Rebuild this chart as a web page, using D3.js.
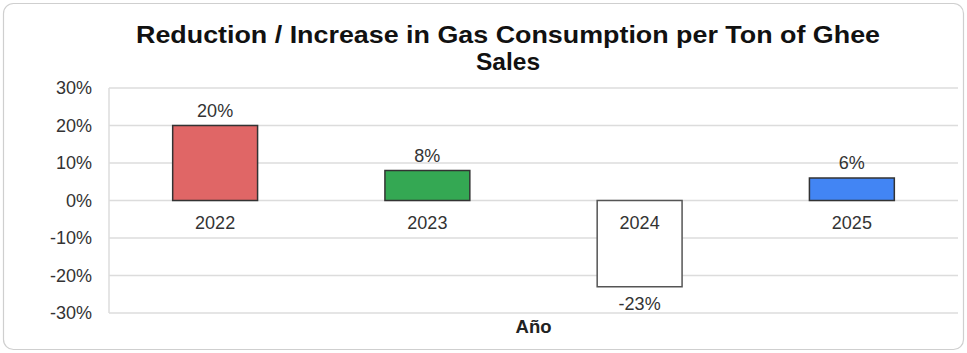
<!DOCTYPE html>
<html>
<head>
<meta charset="utf-8">
<script src="https://cdn.jsdelivr.net/npm/d3@7"></script>
<style>
  html, body { margin: 0; padding: 0; background: #fff; }
  svg { display: block; font-family: "Liberation Sans", Arial, sans-serif; }
</style>
</head>
<body>
<svg id="chart" width="967" height="353"></svg>
<script>
// Year-over-year change in gas consumption per ton of ghee sold
const years = ["2022", "2023", "2024", "2025"];
const changes = [20, 8, -23, 6];
const barColors = ["#e06666", "#34a853", "#ffffff", "#4285f4"];
const yTicks = [30, 20, 10, 0, -10, -20, -30];
const titleLines = ["Reduction / Increase in Gas Consumption per Ton of Ghee", "Sales"];
const xAxisTitle = "Año";

const svg = d3.select("#chart");
const W = 967, H = 353;
const plot = { left: 109, right: 958, top: 88, bottom: 313 };

// Card outline
svg.append("rect")
  .attr("x", 3.5).attr("y", 3.5)
  .attr("width", W - 7).attr("height", H - 7)
  .attr("rx", 10).attr("ry", 10)
  .attr("fill", "#fff")
  .attr("stroke", "#cfcfcf")
  .attr("stroke-width", 1.2);

const x = d3.scaleBand()
  .domain(years)
  .range([plot.left, plot.right])
  .paddingInner(0.6)
  .paddingOuter(0.3);

const y = d3.scaleLinear()
  .domain([-30, 30])
  .range([plot.bottom, plot.top]);

// Gridlines
svg.append("g")
  .selectAll("line")
  .data(yTicks)
  .join("line")
  .attr("x1", plot.left).attr("x2", plot.right)
  .attr("y1", d => y(d)).attr("y2", d => y(d))
  .attr("stroke", "#dcdcdc")
  .attr("stroke-width", 1.5);

// Left axis line
svg.append("line")
  .attr("x1", plot.left).attr("x2", plot.left)
  .attr("y1", plot.top).attr("y2", plot.bottom)
  .attr("stroke", "#dcdcdc")
  .attr("stroke-width", 1.5);

// Y axis labels
const yAxis = d3.axisLeft(y)
  .tickValues(yTicks)
  .tickFormat(d => d + "%")
  .tickSize(0)
  .tickPadding(17);
const yg = svg.append("g")
  .attr("transform", `translate(${plot.left},0)`)
  .call(yAxis);
yg.select(".domain").remove();
yg.selectAll("text")
  .attr("font-size", 18)
  .attr("font-family", "'Liberation Sans', Arial, sans-serif")
  .attr("fill", "#333");

// Bars
svg.append("g")
  .selectAll("rect")
  .data(years)
  .join("rect")
  .attr("x", d => x(d))
  .attr("width", x.bandwidth())
  .attr("y", (d, i) => y(Math.max(0, changes[i])))
  .attr("height", (d, i) => Math.abs(y(changes[i]) - y(0)))
  .attr("fill", (d, i) => barColors[i])
  .attr("stroke", (d, i) => changes[i] < 0 ? "#555" : "#333")
  .attr("stroke-width", 1.5);

// Category labels below the zero line
svg.append("g")
  .selectAll("text")
  .data(years)
  .join("text")
  .attr("x", d => x(d) + x.bandwidth() / 2)
  .attr("y", y(0) + 28.5)
  .attr("text-anchor", "middle")
  .attr("font-size", 18)
  .attr("fill", "#333")
  .text(d => d);

// Value labels
svg.append("g")
  .selectAll("text")
  .data(years)
  .join("text")
  .attr("x", d => x(d) + x.bandwidth() / 2)
  .attr("y", (d, i) => changes[i] >= 0 ? y(changes[i]) - 9 : y(changes[i]) + 23)
  .attr("text-anchor", "middle")
  .attr("font-size", 18)
  .attr("fill", "#333")
  .text((d, i) => changes[i] + "%");

// Title (first line spread to the full heading width)
const title = svg.append("g");
title.append("text")
  .attr("x", 508)
  .attr("y", 42.5)
  .attr("text-anchor", "middle")
  .attr("font-size", 24.5)
  .attr("font-weight", "bold")
  .attr("fill", "#111")
  .attr("textLength", 744)
  .attr("lengthAdjust", "spacingAndGlyphs")
  .text(titleLines[0]);
title.append("text")
  .attr("x", 508)
  .attr("y", 70)
  .attr("text-anchor", "middle")
  .attr("font-size", 24.5)
  .attr("font-weight", "bold")
  .attr("fill", "#111")
  .text(titleLines[1]);

// X axis title
svg.append("text")
  .attr("x", (plot.left + plot.right) / 2)
  .attr("y", 333)
  .attr("text-anchor", "middle")
  .attr("font-size", 18.5)
  .attr("font-weight", "bold")
  .attr("fill", "#222")
  .text(xAxisTitle);
</script>
</body>
</html>
